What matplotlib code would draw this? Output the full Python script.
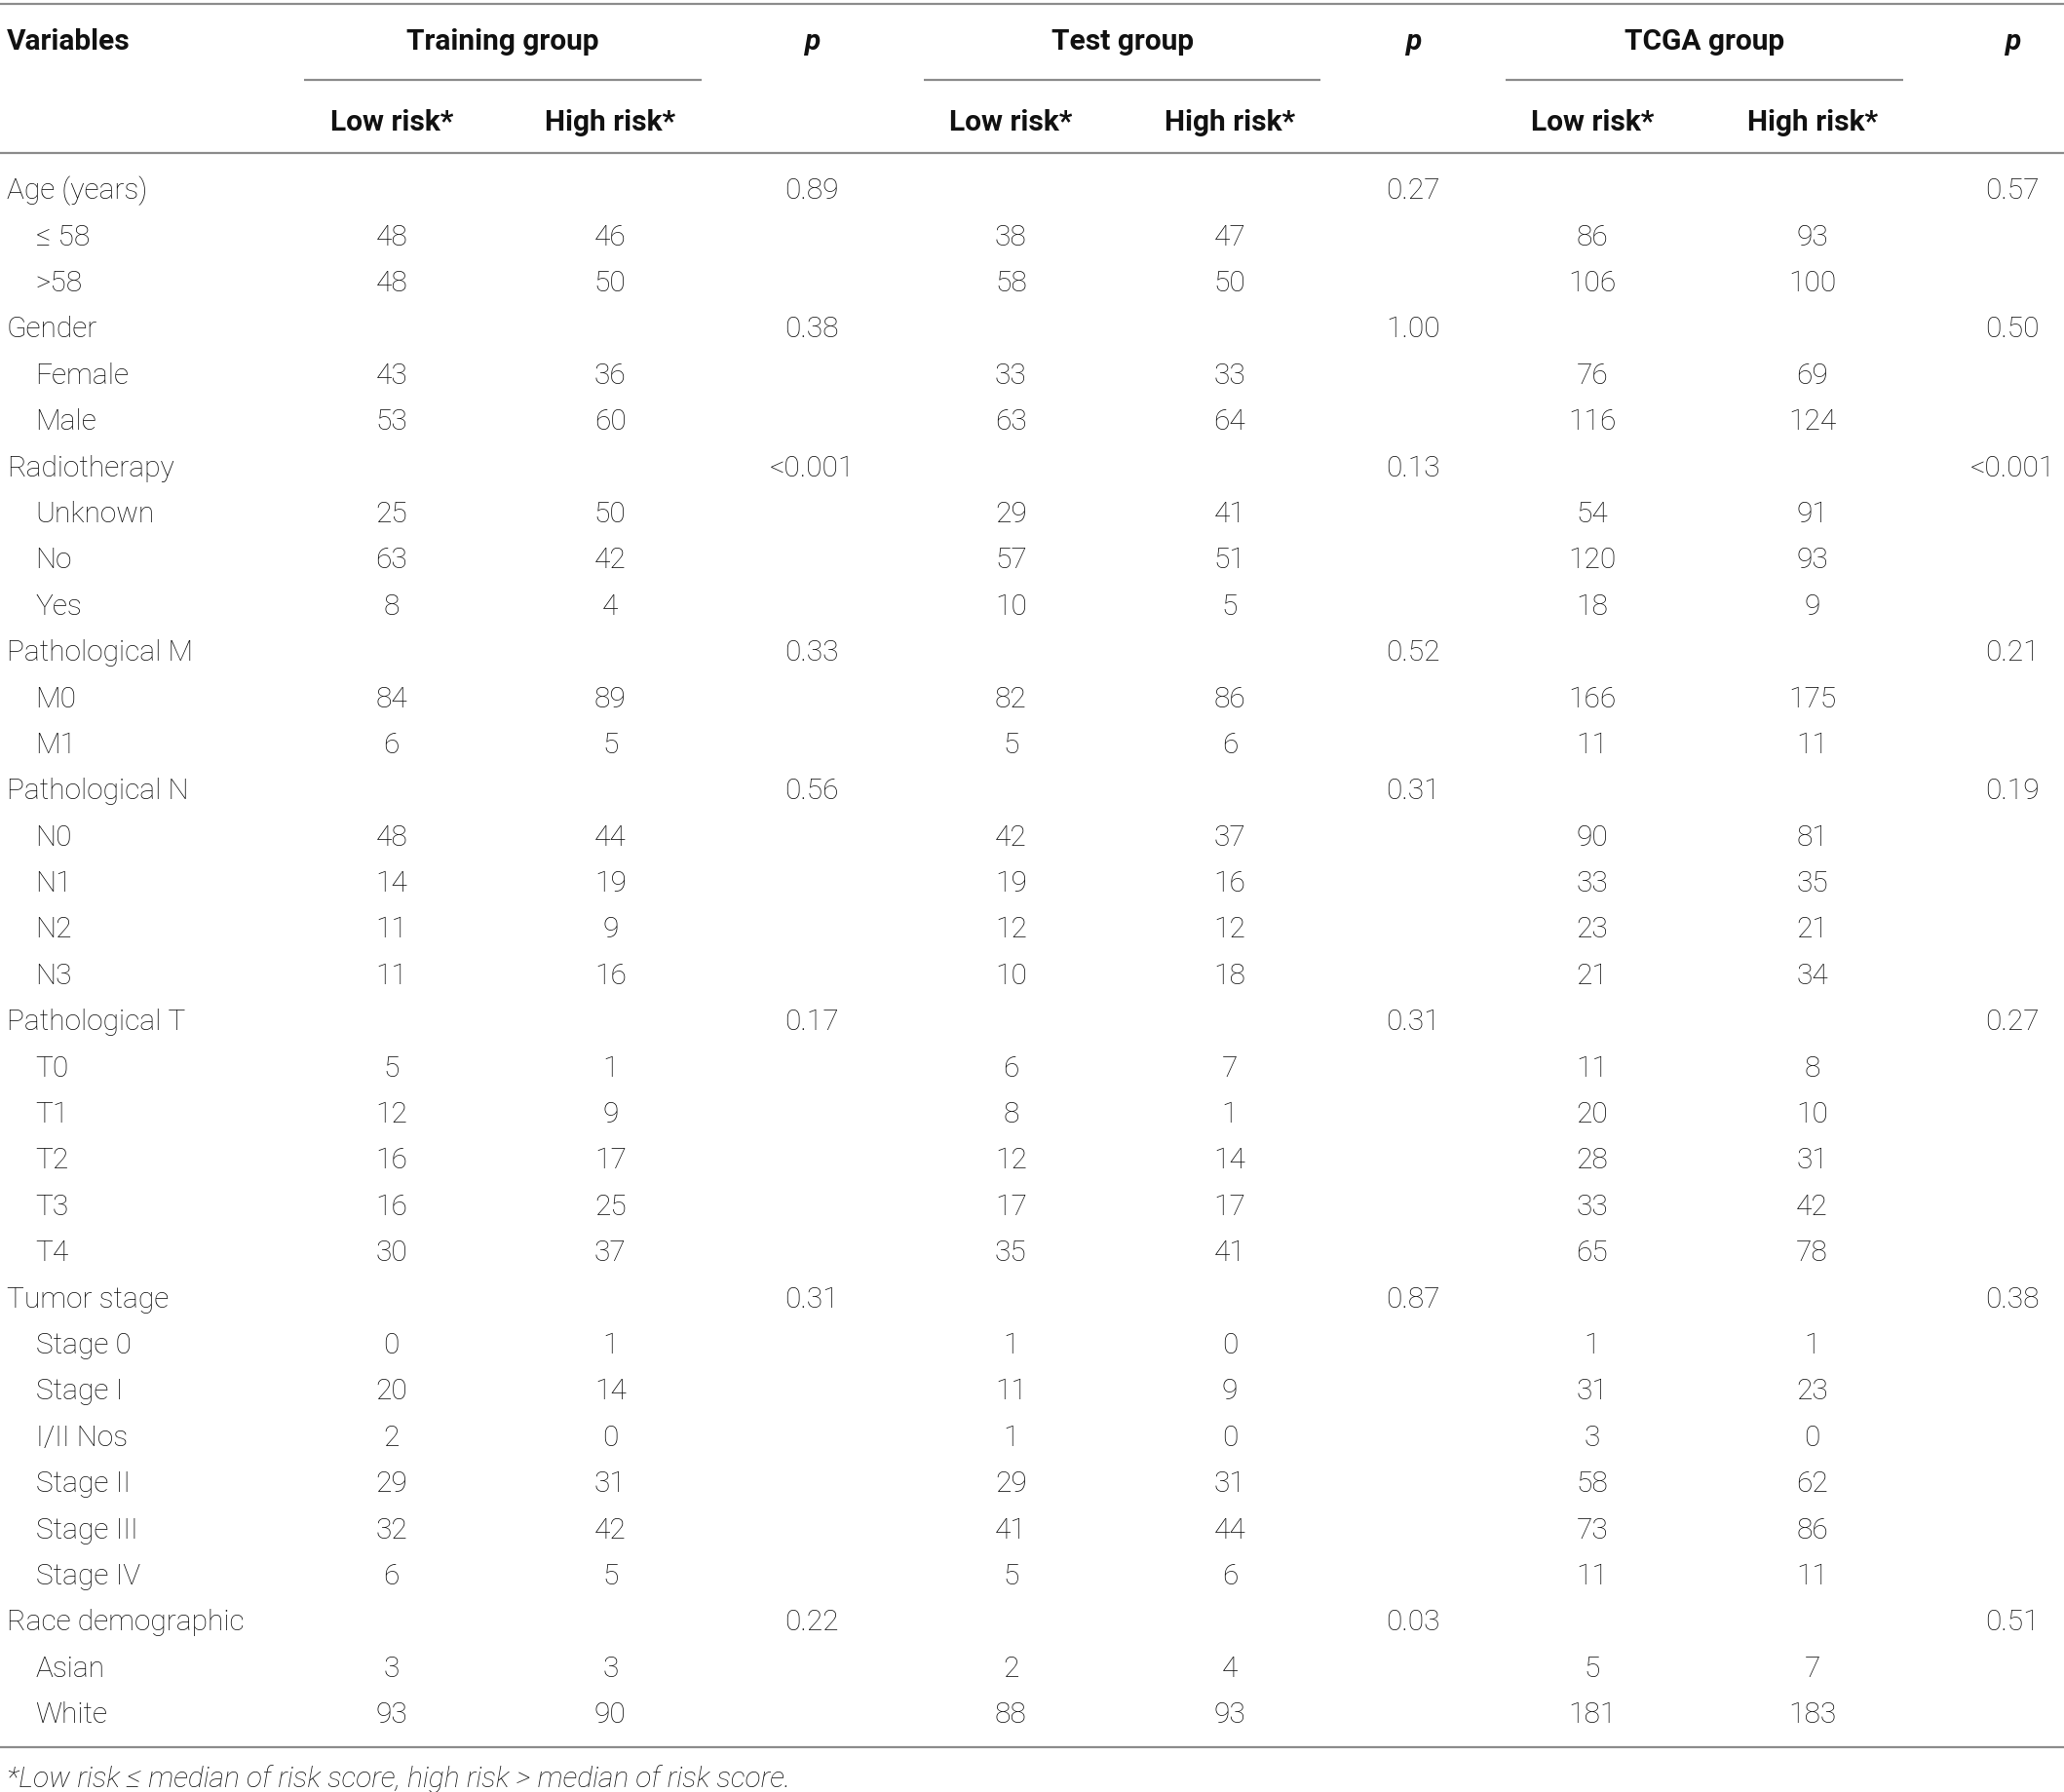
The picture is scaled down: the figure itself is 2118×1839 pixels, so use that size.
import matplotlib.pyplot as plt
import matplotlib.font_manager as fm

# --- table content ---
labels = ["Age (years)", "≤ 58", ">58",
          "Gender", "Female", "Male",
          "Radiotherapy", "Unknown", "No", "Yes",
          "Pathological M", "M0", "M1",
          "Pathological N", "N0", "N1", "N2", "N3",
          "Pathological T", "T0", "T1", "T2", "T3", "T4",
          "Tumor stage", "Stage 0", "Stage I", "I/II Nos", "Stage II", "Stage III", "Stage IV",
          "Race demographic", "Asian", "White"]
is_header = [1, 0, 0, 1, 0, 0, 1, 0, 0, 0, 1, 0, 0, 1, 0, 0, 0, 0,
             1, 0, 0, 0, 0, 0, 1, 0, 0, 0, 0, 0, 0, 1, 0, 0]

train_low = ["", 48, 48, "", 43, 53, "", 25, 63, 8, "", 84, 6, "", 48, 14, 11, 11,
             "", 5, 12, 16, 16, 30, "", 0, 20, 2, 29, 32, 6, "", 3, 93]
train_high = ["", 46, 50, "", 36, 60, "", 50, 42, 4, "", 89, 5, "", 44, 19, 9, 16,
              "", 1, 9, 17, 25, 37, "", 1, 14, 0, 31, 42, 5, "", 3, 90]
train_p = ["0.89", "", "", "0.38", "", "", "<0.001", "", "", "", "0.33", "", "",
           "0.56", "", "", "", "", "0.17", "", "", "", "", "", "0.31", "", "", "", "", "", "",
           "0.22", "", ""]

test_low = ["", 38, 58, "", 33, 63, "", 29, 57, 10, "", 82, 5, "", 42, 19, 12, 10,
            "", 6, 8, 12, 17, 35, "", 1, 11, 1, 29, 41, 5, "", 2, 88]
test_high = ["", 47, 50, "", 33, 64, "", 41, 51, 5, "", 86, 6, "", 37, 16, 12, 18,
             "", 7, 1, 14, 17, 41, "", 0, 9, 0, 31, 44, 6, "", 4, 93]
test_p = ["0.27", "", "", "1.00", "", "", "0.13", "", "", "", "0.52", "", "",
          "0.31", "", "", "", "", "0.31", "", "", "", "", "", "0.87", "", "", "", "", "", "",
          "0.03", "", ""]

tcga_low = ["", 86, 106, "", 76, 116, "", 54, 120, 18, "", 166, 11, "", 90, 33, 23, 21,
            "", 11, 20, 28, 33, 65, "", 1, 31, 3, 58, 73, 11, "", 5, 181]
tcga_high = ["", 93, 100, "", 69, 124, "", 91, 93, 9, "", 175, 11, "", 81, 35, 21, 34,
             "", 8, 10, 31, 42, 78, "", 1, 23, 0, 62, 86, 11, "", 7, 183]
tcga_p = ["0.57", "", "", "0.50", "", "", "<0.001", "", "", "", "0.21", "", "",
          "0.19", "", "", "", "", "0.27", "", "", "", "", "", "0.38", "", "", "", "", "", "",
          "0.51", "", ""]

groups = ["Training group", "Test group", "TCGA group"]
sub_headers = ["Low risk*", "High risk*"]
footnote = "*Low risk ≤ median of risk score, high risk > median of risk score."

# --- style ---
names = {f.name for f in fm.fontManager.ttflist}
family = ["Roboto", "DejaVu Sans"] if "Roboto" in names else ["Liberation Sans", "DejaVu Sans"]
plt.rcParams["font.family"] = family
txt_color = "#111111"
rule_color = "#8c8c8c"
fs = 21.5

fig = plt.figure(figsize=(21.18, 18.40), dpi=100)
ax = fig.add_axes([0, 0, 1, 1])
W, H = 1566, 1360
ax.set_xlim(0, W)
ax.set_ylim(H, 0)
ax.axis("off")

col_low = [297, 767, 1208]
col_high = [463, 933, 1375]
col_p = [616, 1072, 1527]
span = [(231, 532), (701, 1002), (1142, 1444)]
off = 2  # small nudge, text centre vs glyph centre

# rules
for y in (4, 117, 1326):
    ax.plot([0, W], [y, y], color=rule_color, lw=1.6, solid_capstyle="butt")
for a, b in span:
    ax.plot([a, b], [61, 61], color=rule_color, lw=1.6, solid_capstyle="butt")

# header
ax.text(5, 30 + off, "Variables", ha="left", va="center", fontsize=fs, weight="bold", color=txt_color)
for i, g in enumerate(groups):
    ax.text((span[i][0] + span[i][1]) / 2, 30 + off, g, ha="center", va="center",
            fontsize=fs, weight="bold", color=txt_color)
    ax.text(col_p[i], 30 + off, "p", ha="center", va="center", fontsize=fs,
            weight="bold", style="italic", color=txt_color)
    ax.text(col_low[i], 91 + off, sub_headers[0], ha="center", va="center",
            fontsize=fs, weight="bold", color=txt_color)
    ax.text(col_high[i], 91 + off, sub_headers[1], ha="center", va="center",
            fontsize=fs, weight="bold", color=txt_color)

# body
y0, dy = 143 + off, 35.03
cols = [(train_low, train_high, train_p), (test_low, test_high, test_p),
        (tcga_low, tcga_high, tcga_p)]
for r, lab in enumerate(labels):
    y = y0 + r * dy
    x = 5 if is_header[r] else 27
    ax.text(x, y, lab, ha="left", va="center", fontsize=fs, weight="light", color=txt_color)
    for i, (lo, hi, p) in enumerate(cols):
        ax.text(col_low[i], y, str(lo[r]), ha="center", va="center", fontsize=fs,
                weight="light", color=txt_color)
        ax.text(col_high[i], y, str(hi[r]), ha="center", va="center", fontsize=fs,
                weight="light", color=txt_color)
        ax.text(col_p[i], y, p[r], ha="center", va="center", fontsize=fs,
                weight="light", color=txt_color)

ax.text(5, 1347 + off, footnote, ha="left", va="center", fontsize=fs,
        style="italic", weight="light", color=txt_color)

fig.savefig("out.png", dpi=100)
